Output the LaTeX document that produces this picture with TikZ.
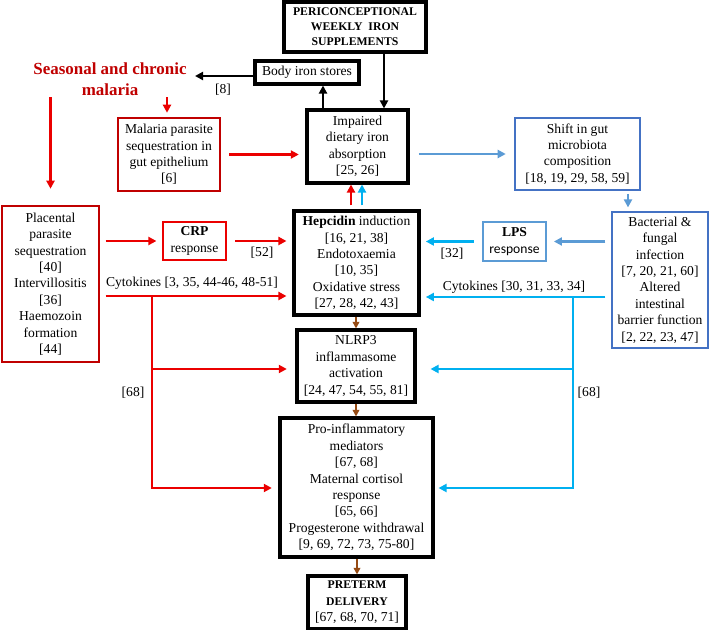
\documentclass[tikz,border=0pt]{standalone}
\usepackage{fontspec}
\setmainfont{Liberation Serif}
\setsansfont{Carlito}
\usetikzlibrary{arrows.meta,calc}
\definecolor{dred}{RGB}{192,0,0}
\definecolor{bred}{RGB}{235,0,0}
\definecolor{mblue}{RGB}{68,114,196}
\definecolor{lblue}{RGB}{91,155,213}
\definecolor{cyanb}{RGB}{0,176,240}
\definecolor{brn}{RGB}{150,75,20}
\newcommand{\bcapfont}{\bfseries\fontsize{8.8}{11.5}\selectfont}
\begin{document}
\begin{tikzpicture}[x=0.75pt,y=-0.75pt,
 every node/.style={font=\fontsize{10.2}{12.3}\selectfont, align=center, inner sep=0pt},
 bx/.style 2 args={draw, minimum width=#1*0.75pt, minimum height=#2*0.75pt},
 blk/.style={line width=2.3pt},
 colbox/.style={line width=1.9pt},
 arr/.style={line width=2pt, -{Triangle[length=6pt,width=6pt]}},
 barr/.style={line width=1.6pt, brn, -{Triangle[length=5pt,width=5pt]}},
 line/.style={line width=2pt}
]
\useasboundingbox[fill=white] (0,0) rectangle (710,630);

% nodes
\node[bx={142}{50}, blk, font=\bfseries\fontsize{8.8}{11.25}\selectfont] (peri) at (355,27) {PERICONCEPTIONAL\\WEEKLY\ \ IRON\\SUPPLEMENTS};
\node[bx={104}{23}, blk] (body) at (307,72.5) {Body iron stores};
\node[text=dred, font=\bfseries\fontsize{12.7}{15.75}\selectfont] (title) at (110,79) {Seasonal and chronic\\malaria};
\node[bx={102}{73}, colbox, draw=dred] (para) at (169,154.5) {Malaria parasite\\sequestration in\\gut epithelium\\{}[6]};
\node[bx={101}{73}, blk] (imp) at (357.5,146.5) {Impaired\\dietary iron\\absorption\\{}[25, 26]};
\node[bx={125}{72}, colbox, draw=mblue] (shift) at (577.5,154) {Shift in gut\\microbiota\\composition\\{}[18, 19, 29, 58, 59]};
\node[bx={96}{136}, colbox, draw=mblue] (bact) at (660,280) {Bacterial \&\\fungal\\infection\\{}[7, 20, 21, 60]\\Altered\\intestinal\\barrier function\\{}[2, 22, 23, 47]};
\node[bx={63}{39}, colbox, draw=lblue] (lps) at (514.5,241.5) {\textbf{LPS}\\{\sffamily response}};
\node[bx={125}{104}, blk] (hep) at (356.5,263) {\textbf{Hepcidin} induction\\{}[16, 21, 38]\\Endotoxaemia\\{}[10, 35]\\Oxidative stress\\{}[27, 28, 42, 43]};
\node[bx={63}{38}, colbox, draw=bred] (crp) at (194.5,241) {\textbf{CRP}\\response};
\node[bx={97}{156}, colbox, draw=dred] (plac) at (50.5,284) {Placental\\parasite\\sequestration\\{}[40]\\Intervillositis\\{}[36]\\Haemozoin\\formation\\{}[44]};
\node[bx={118}{72}, blk] (nlrp) at (356,366) {NLRP3\\inflammasome\\activation\\{}[24, 47, 54, 55, 81]};
\node[bx={153}{139}, blk] (pro) at (356.5,487.5) {Pro-inflammatory\\mediators\\{}[67, 68]\\Maternal cortisol\\response\\{}[65, 66]\\Progesterone withdrawal\\{}[9, 69, 72, 73, 75-80]};
\node[bx={98}{53}, blk] (pre) at (357,602.5) {{\bcapfont PRETERM}\\{\bcapfont DELIVERY}\\{}[67, 68, 70, 71]};

% labels
\node (l8) at (223,90) {[8]};
\node (l32) at (452,254) {[32]};
\node (l52) at (262,253) {[52]};
\node (l68a) at (133,393) {[68]};
\node (l68b) at (589,393) {[68]};
\node (cyr) at (192,283) {Cytokines [3, 35, 44-46, 48-51]};
\node (cyb) at (514,287) {Cytokines [30, 31, 33, 34]};

% helper coordinates
\coordinate (xperi) at (384,0);
\coordinate (xbody) at (323,0);
\coordinate (c8) at (195,76);
\coordinate (xpa) at (167,0);
\coordinate (xsb) at (628,0);
\coordinate (xr) at (351,0);
\coordinate (xc) at (362,0);
\coordinate (yr) at (0,296);
\coordinate (yb) at (0,297);
\coordinate (rv) at (152,296);
\coordinate (rv1) at (152,369);
\coordinate (rv2) at (152,488);
\coordinate (bv) at (573,297);
\coordinate (bv1) at (573,369);
\coordinate (bv2) at (573,488);

% black arrows
\draw[arr] (peri.south -| xperi) -- (imp.north -| xperi);
\draw[arr] (imp.north -| xbody) -- (body.south -| xbody);
\draw[arr] (c8 -| body.west) -- (c8);

% red arrows
\draw[arr, bred, shorten <=1pt, shorten >=3pt] (title.south -| xpa) -- (para.north -| xpa);
\draw[arr, bred, shorten <=1pt, shorten >=12pt] (title.south -| plac.north) -- (plac.north);
\draw[arr, bred, shorten <=6pt, shorten >=5pt] (para.east) -- (imp.west |- para.east);
\draw[arr, bred, shorten <=4pt, shorten >=4pt] (plac.east |- crp.west) -- (crp.west);
\draw[arr, bred, shorten <=6pt, shorten >=4.5pt] (crp.east) -- (hep.west |- crp.east);
\draw[arr, bred, shorten <=4pt, shorten >=4.5pt] (plac.east |- yr) -- (hep.west |- yr);
\draw[line, bred] (rv) -- (rv1);
\draw[arr, bred, shorten >=6.5pt] (rv1) -- (nlrp.west |- rv1);
\draw[arr, bred, shorten >=5pt] (rv1) -- (rv2) -- (pro.west |- rv2);
\draw[arr, bred, shorten <=3pt] (hep.north -| xr) -- (imp.south -| xr);

% blue arrows
\draw[arr, lblue, shorten <=7pt, shorten >=6pt] (imp.east |- shift.west) -- (shift.west);
\draw[arr, lblue, shorten <=2pt, shorten >=2.5pt] (shift.south -| xsb) -- (bact.north -| xsb);
\draw[arr, lblue, shorten <=4pt, shorten >=5pt] (bact.west |- lps.east) -- (lps.east);
\draw[arr, cyanb, shorten <=6pt, shorten >=4pt] (lps.west) -- (hep.east |- lps.west);
\draw[arr, cyanb, shorten <=4pt, shorten >=4pt] (bact.west |- yb) -- (hep.east |- yb);
\draw[line, cyanb] (bv) -- (bv1);
\draw[arr, cyanb, shorten >=10.5pt] (bv1) -- (nlrp.east |- bv1);
\draw[arr, cyanb, shorten >=3pt] (bv1) -- (bv2) -- (pro.east |- bv2);
\draw[arr, cyanb, shorten <=3pt] (hep.north -| xc) -- (imp.south -| xc);

% brown arrows
\draw[barr] (hep.south -| nlrp.north) -- (nlrp.north);
\draw[barr] (nlrp.south) -- (pro.north -| nlrp.south);
\draw[barr] (pro.south -| pre.north) -- (pre.north);
\end{tikzpicture}
\end{document}
